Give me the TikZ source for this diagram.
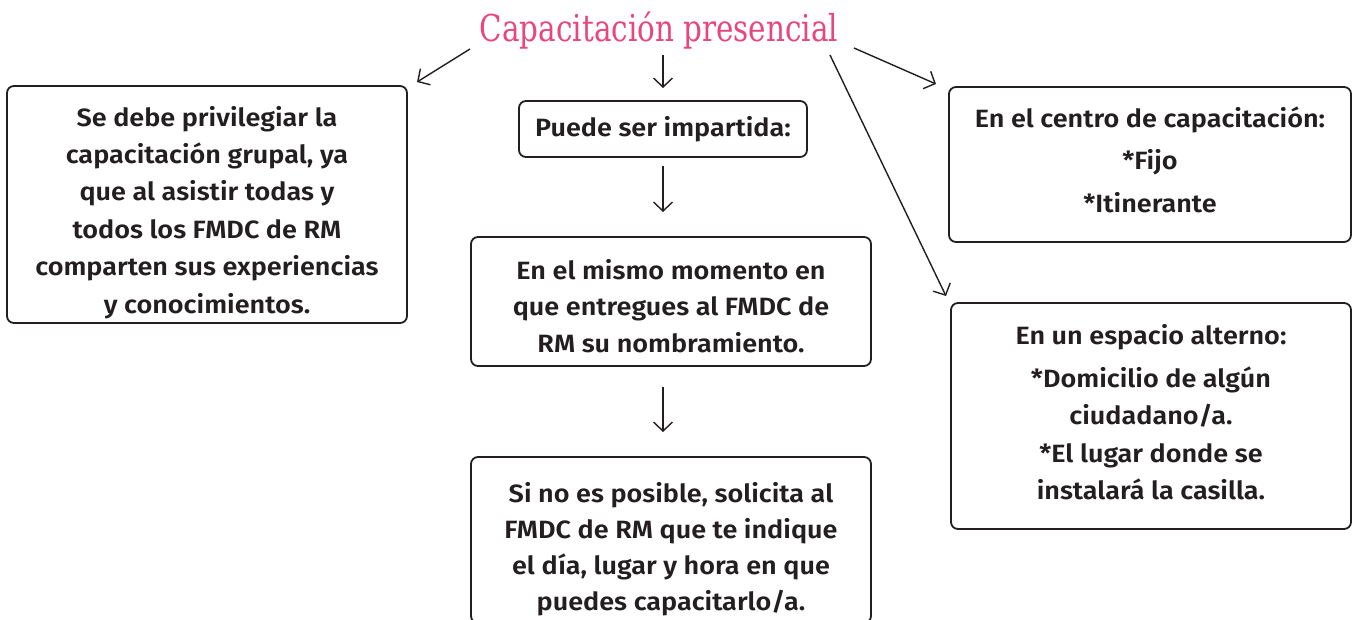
\documentclass[tikz,border=0pt]{standalone}
\usepackage{fontspec}
\newfontfamily\bodyfont{Fira Sans SemiBold}[FakeStretch=1.08]
\newfontfamily\titlefont{DejaVu Serif}
\usetikzlibrary{arrows.meta}
\definecolor{ink}{HTML}{231F20}
\definecolor{pinkc}{HTML}{E8467F}
\newcommand\bodyat[1]{\bodyfont\fontsize{25}{#1}\selectfont}
\newcommand\topr[1]{\rule{0pt}{#1pt}}
\newcommand\botr[1]{\rule[-#1pt]{0pt}{#1pt}}
\tikzset{
  box/.style={draw=ink, line width=1.8pt, rounded corners=7pt, align=center, text=ink, font=\bodyat{37.5}, inner sep=0pt},
  lsp/.style={font=\bodyat{#1}},
  arr/.style={draw=ink, line width=1.4pt, -{Straight Barb[length=9pt,width=19pt]}},
}
\begin{document}
\begin{tikzpicture}[x=1pt,y=-1pt]
\useasboundingbox (0,0) rectangle (1353,619);
\fill[white] (0,0) rectangle (1353,619);
\clip (0,0) rectangle (1353,619);
\node[font=\titlefont\fontsize{37}{42}\selectfont, text=pinkc, inner sep=0pt, anchor=base] (T) at (659,41) {\scalebox{0.795}[1]{Capacitación presencial}};
\node[box, lsp=37.4, minimum width=400pt, minimum height=237pt] (L) at (207,204.5) {\topr{37}Se debe privilegiar la\\capacitación grupal, ya\\que al asistir todas y\\todos los FMDC de RM\\comparten sus experiencias\\y conocimientos.\botr{7}};
\node[box, minimum width=288pt, minimum height=56pt] (P) at (663,129) {Puede ser impartida:};
\node[box, lsp=36.5, minimum width=400pt, minimum height=129pt] (M) at (671,301.5) {\topr{35}En el mismo momento en\\que entregues al FMDC de\\RM su nombramiento.\botr{7}};
\node[box, lsp=36, minimum width=400pt, minimum height=166pt] (B) at (671,540) {\topr{41}Si no es posible, solicita al\\FMDC de RM que te indique\\el día, lugar y hora en que\\puedes capacitarlo/a.\botr{9}};
\node[box, lsp=42.5, minimum width=402pt, minimum height=155pt] (RT) at (1150,164.5) {\topr{21}En el centro de capacitación:\\*Fijo\\*Itinerante\botr{11}};
\node[box, lsp=37.5, minimum width=400pt, minimum height=226pt] (RB) at (1151,416) {\topr{21}En un espacio alterno:\\[5.5pt]*Domicilio de algún\\ciudadano/a.\\*El lugar donde se\\instalará la casilla.\botr{9.5}};
\coordinate (a1s) at (470,49); \coordinate (a1e) at (417,82);
\coordinate (a2s) at (663,55); \coordinate (a2e) at (663,88);
\coordinate (a3s) at (663,166); \coordinate (a3e) at (663,212);
\coordinate (a4s) at (663,387); \coordinate (a4e) at (663,432);
\coordinate (a5s) at (854,48); \coordinate (a5e) at (936,84);
\coordinate (a6s) at (830,55); \coordinate (a6e) at (946,296);
\draw[arr] (a1s) -- (a1e);
\draw[arr] (a2s) -- (a2e);
\draw[arr] (a3s) -- (a3e);
\draw[arr] (a4s) -- (a4e);
\draw[arr] (a5s) -- (a5e);
\draw[arr] (a6s) -- (a6e);
\end{tikzpicture}
\end{document}
